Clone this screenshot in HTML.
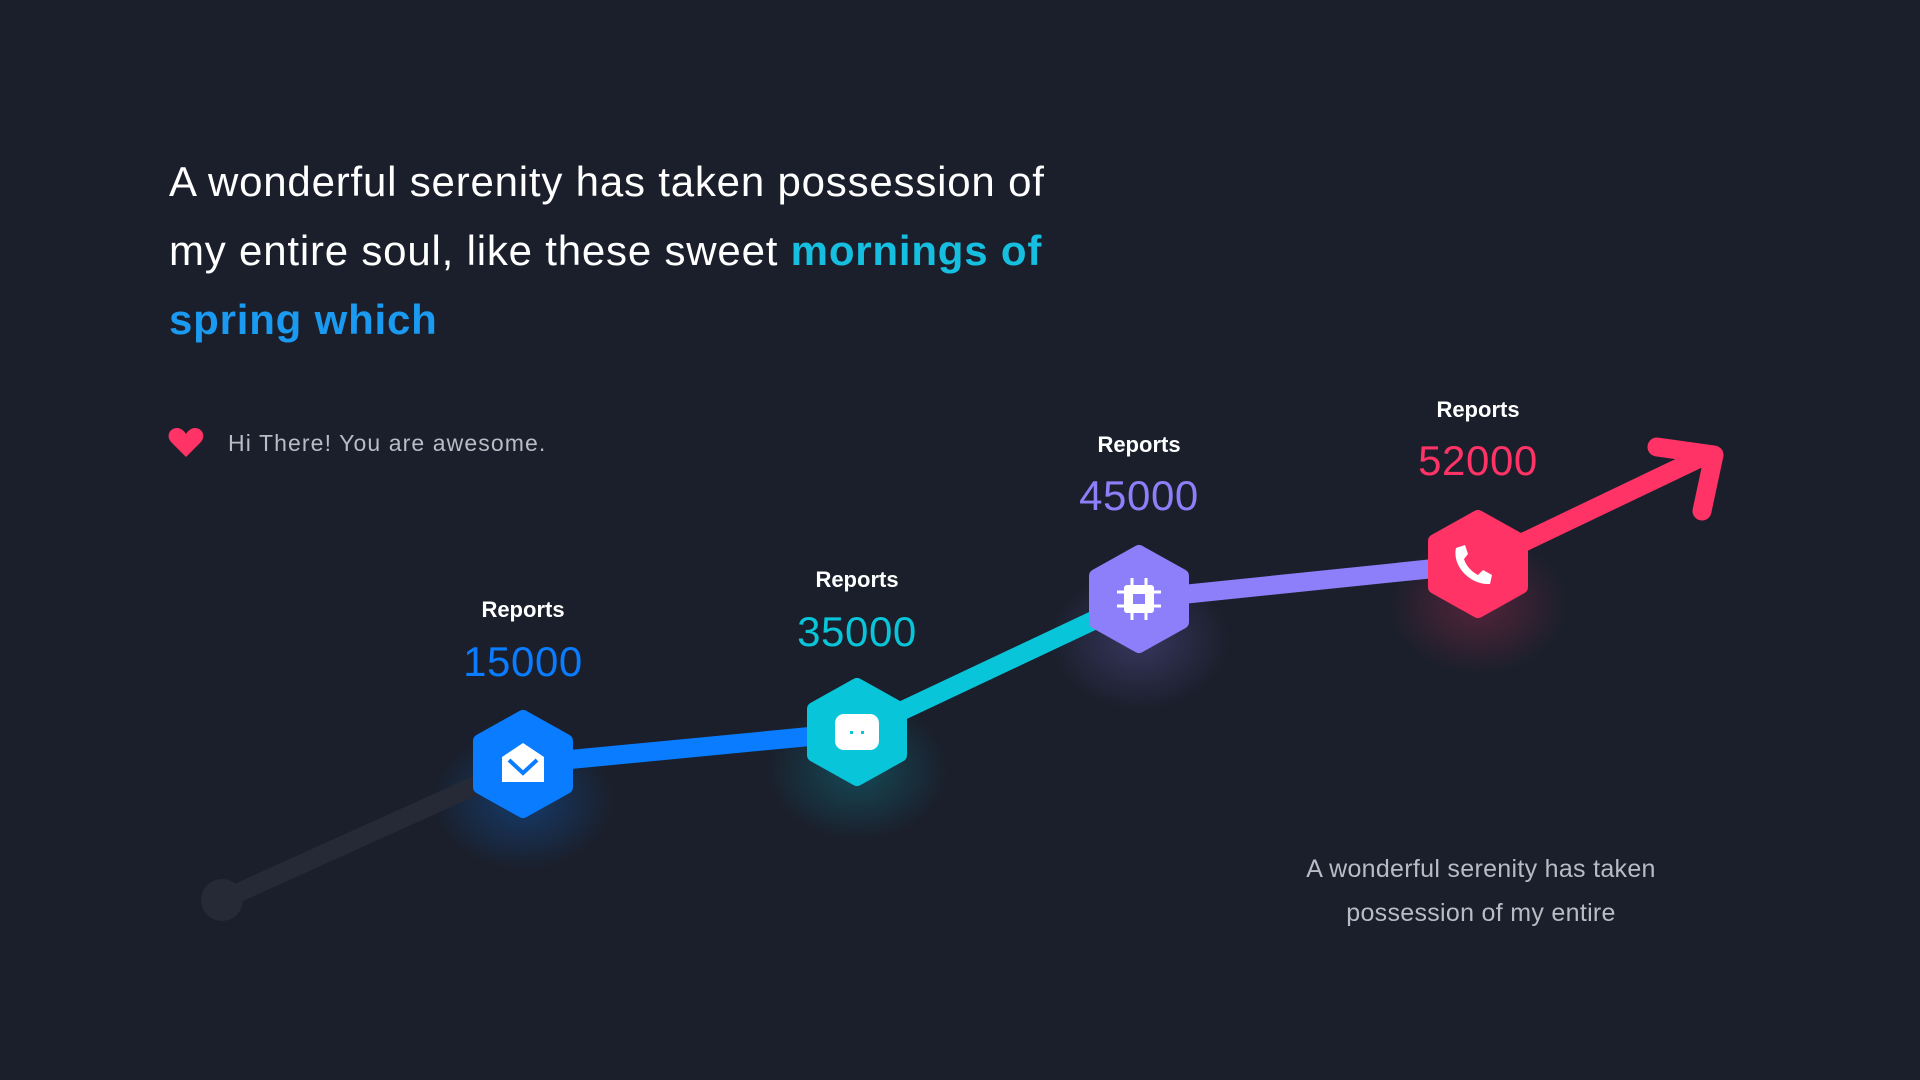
<!DOCTYPE html>
<html><head><meta charset="utf-8"><style>
html,body{margin:0;padding:0;background:#1a1f2b;width:1920px;height:1080px;overflow:hidden}
svg{display:block}
text{font-family:"Liberation Sans",sans-serif}
</style></head><body>
<svg width="1920" height="1080" viewBox="0 0 1920 1080">
<defs>
<radialGradient id="gb"><stop offset="0" stop-color="#0a7cff" stop-opacity=".3"/><stop offset="1" stop-color="#0a7cff" stop-opacity="0"/></radialGradient>
<radialGradient id="gc"><stop offset="0" stop-color="#09c5d9" stop-opacity=".25"/><stop offset="1" stop-color="#09c5d9" stop-opacity="0"/></radialGradient>
<radialGradient id="gp"><stop offset="0" stop-color="#8c7ff9" stop-opacity=".25"/><stop offset="1" stop-color="#8c7ff9" stop-opacity="0"/></radialGradient>
<radialGradient id="gr"><stop offset="0" stop-color="#ff3366" stop-opacity=".25"/><stop offset="1" stop-color="#ff3366" stop-opacity="0"/></radialGradient>
</defs>
<rect width="1920" height="1080" fill="#1a1f2b"/>
<text font-size="42" fill="#ffffff" letter-spacing="0.8">
<tspan x="169" y="196">A wonderful serenity has taken possession of</tspan>
<tspan x="169" y="265">my entire soul, like these sweet <tspan fill="#16bfe0" font-weight="bold">mornings of</tspan></tspan>
<tspan x="169" y="334" fill="#1a9af0" font-weight="bold">spring which</tspan>
</text>
<path d="M186 457 L172 443 C165 436 170 428 177 428 C181 428 184 431 186 434 C188 431 191 428 195 428 C202 428 207 436 200 443 Z" fill="#ff3366"/>
<text x="228" y="451" font-size="23" letter-spacing="1.1" fill="#b9bcc4">Hi There! You are awesome.</text>
<ellipse cx="523" cy="800" rx="90" ry="70" fill="url(#gb)"/>
<ellipse cx="857" cy="770" rx="90" ry="70" fill="url(#gc)"/>
<ellipse cx="1139" cy="640" rx="90" ry="70" fill="url(#gp)"/>
<ellipse cx="1478" cy="605" rx="90" ry="70" fill="url(#gr)"/>
<g stroke-width="19" stroke-linecap="round" fill="none">
<line x1="222" y1="900" x2="523" y2="764" stroke="#252a36"/>
<line x1="523" y1="764" x2="857" y2="732" stroke="#0a7cff"/>
<line x1="857" y1="732" x2="1139" y2="599" stroke="#09c5d9"/>
<line x1="1139" y1="599" x2="1478" y2="564" stroke="#8c7ff9"/>
<line x1="1478" y1="564" x2="1706" y2="455" stroke="#ff3366"/>
<polyline points="1657,447 1714,455 1702,511" stroke="#ff3366" stroke-linejoin="round"/>
</g>
<circle cx="222" cy="900" r="21" fill="#252a36"/>
<g stroke-linejoin="round" stroke-width="14">
<polygon points="523,717 566,741 566,787 523,811 480,787 480,741" fill="#0a7cff" stroke="#0a7cff"/>
<polygon points="857,685 900,709 900,755 857,779 814,755 814,709" fill="#09c5d9" stroke="#09c5d9"/>
<polygon points="1139,552 1182,576 1182,622 1139,646 1096,622 1096,576" fill="#8c7ff9" stroke="#8c7ff9"/>
<polygon points="1478,517 1521,541 1521,587 1478,611 1435,587 1435,541" fill="#ff3366" stroke="#ff3366"/>
</g>
<path d="M502 757 L523 743 L544 757 L544 782 L502 782 Z" fill="#fff"/>
<polyline points="509,760 523,773 537,760" stroke="#0a7cff" stroke-width="4" fill="none"/>
<rect x="835" y="714" width="44" height="36" rx="9" fill="#fff"/>
<rect x="850" y="731" width="3" height="3" fill="#09c5d9"/><rect x="861" y="731" width="3" height="3" fill="#09c5d9"/>
<rect x="1124" y="585" width="30" height="28" rx="3" fill="#fff"/>
<g stroke="#fff" stroke-width="3"><line x1="1132" y1="578" x2="1132" y2="620"/><line x1="1146" y1="578" x2="1146" y2="620"/><line x1="1117" y1="592" x2="1161" y2="592"/><line x1="1117" y1="606" x2="1161" y2="606"/></g>
<rect x="1133" y="594" width="12" height="10" fill="#8c7ff9"/>
<path d="M1456 548 C1452 566 1470 585 1490 584 L1492 575 L1483 570 L1478 575 C1472 572 1466 566 1464 559 L1468 554 L1465 545 Z" fill="#fff"/>
<g text-anchor="middle" font-weight="bold" font-size="22" fill="#fff">
<text x="523" y="617">Reports</text><text x="857" y="587">Reports</text><text x="1139" y="452">Reports</text><text x="1478" y="417">Reports</text>
</g>
<g text-anchor="middle" font-size="42" letter-spacing="0.6">
<text x="523" y="676" fill="#0a7cff">15000</text>
<text x="857" y="646" fill="#09c5d9">35000</text>
<text x="1139" y="510" fill="#8c7ff9">45000</text>
<text x="1478" y="475" fill="#ff3366">52000</text>
</g>
<g text-anchor="middle" font-size="25" letter-spacing="0.3" fill="#b9bcc4">
<text x="1481" y="877">A wonderful serenity has taken</text>
<text x="1481" y="921">possession of my entire</text>
</g>
</svg>
</body></html>
